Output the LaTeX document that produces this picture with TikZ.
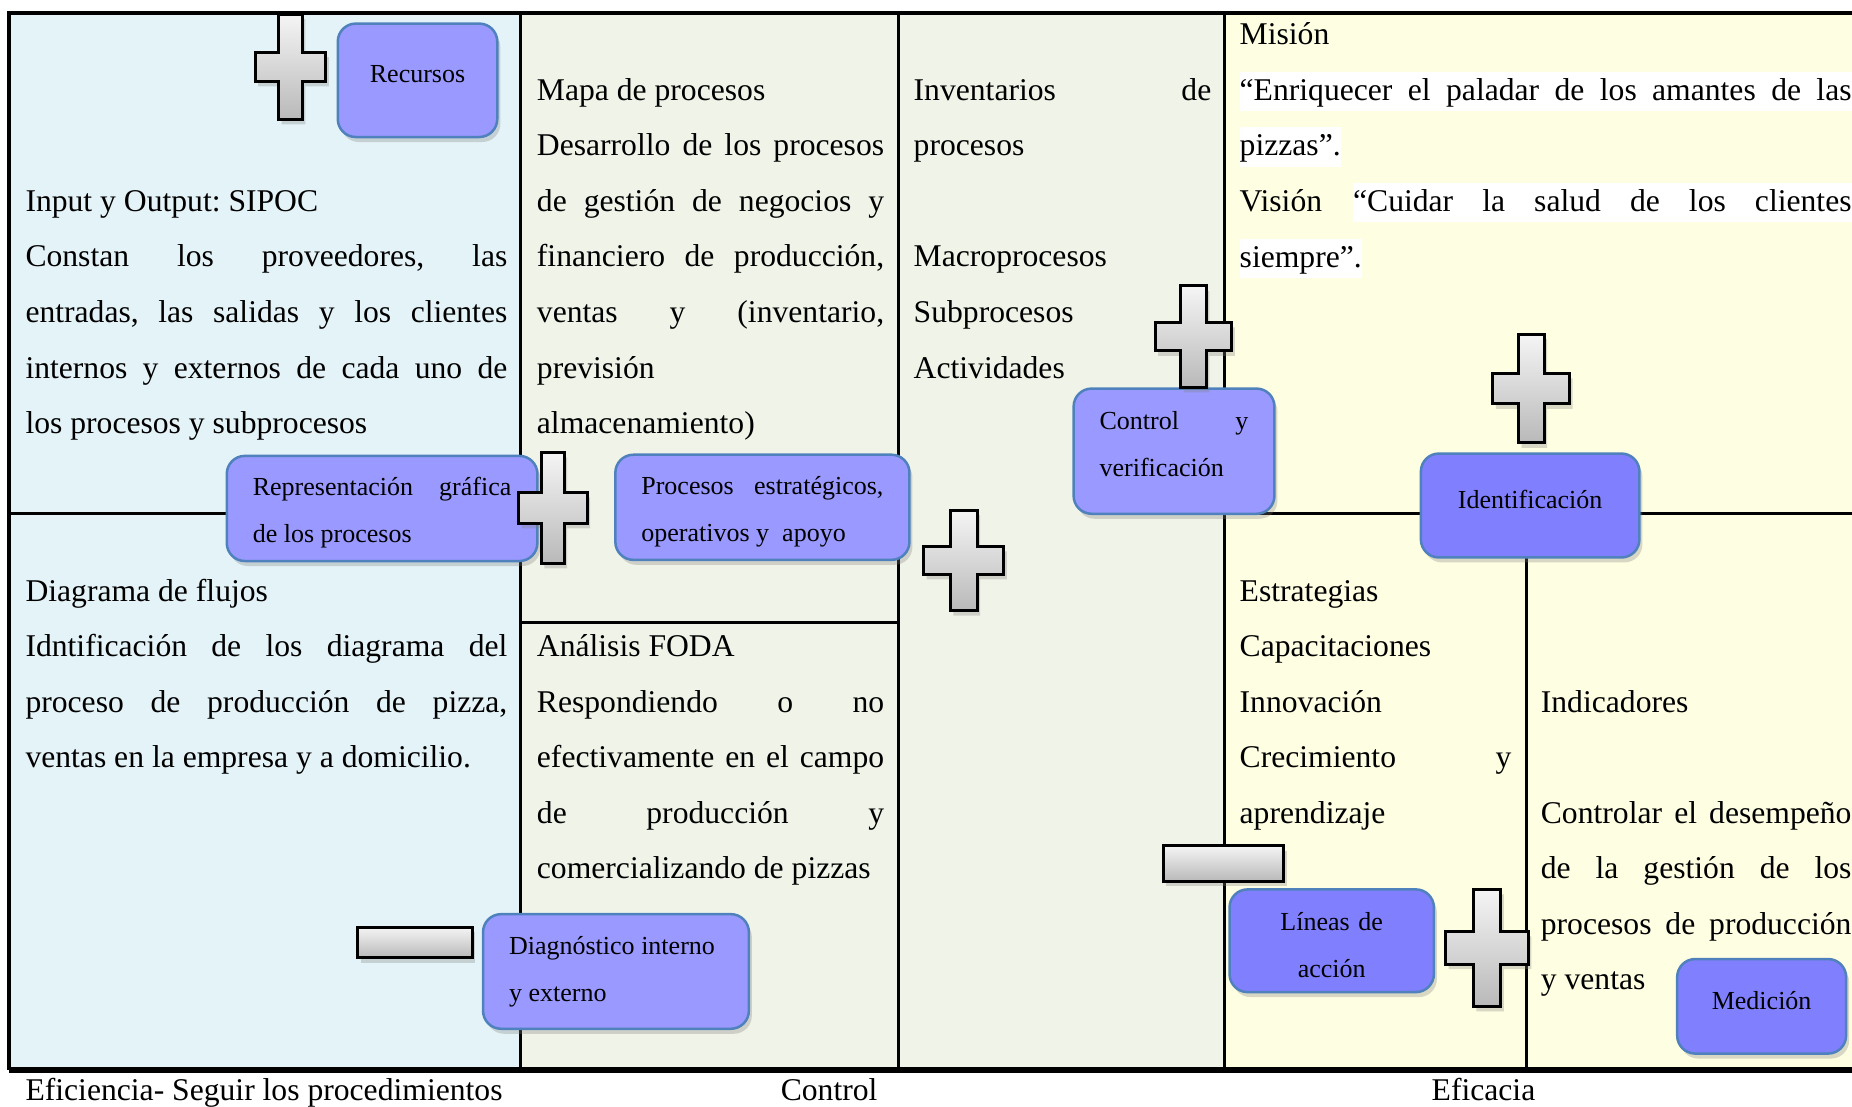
\documentclass[tikz,border=0pt]{standalone}
\usepackage{fontspec}
\setmainfont{Liberation Serif}
\usetikzlibrary{shadows}

\definecolor{celeste}{HTML}{E4F3F8}
\definecolor{verdoso}{HTML}{F0F4E8}
\definecolor{crema}{HTML}{FEFEE2}
\definecolor{lila}{HTML}{9999FF}
\definecolor{lilaosc}{HTML}{8080FF}
\definecolor{borde}{HTML}{4F81BD}

\newcommand\jl[1]{\leavevmode\hbox to\hsize{\spaceskip=0pt\xspaceskip=0pt #1}}
\newcommand\hl[1]{{\setlength\fboxsep{0pt}\colorbox{white}{\rule[-1.1mm]{0pt}{3.95mm}#1}}}

\tikzset{
  cuerpo/.style={anchor=base west, inner sep=0pt, align=justify,
    font=\fontsize{9}{15.8}\selectfont\frenchspacing},
  caja/.style={rounded corners=1.8mm, draw=borde, line width=0.25mm, fill=lila,
    inner xsep=2.6mm, font=\fontsize{7.4}{13.4}\selectfont\frenchspacing,
    drop shadow={shadow xshift=0.3mm, shadow yshift=-0.5mm, opacity=0.3}},
  cajaosc/.style={caja, fill=lilaosc},
  signo/.style={draw=black, line width=0.3mm, top color=gray!8, bottom color=gray!55,
    drop shadow={shadow xshift=0.3mm, shadow yshift=-0.5mm, opacity=0.3}},
  rejilla/.style={line width=0.3mm}
}

\begin{document}
\begin{tikzpicture}[x=0.1181mm, y=-0.1181mm]
        \useasboundingbox (0,0) rectangle (1568,937);
        \clip (0,0) rectangle (1568,937);

        % Cell backgrounds
        \fill[celeste] (8,11) rectangle (441,906);
        \fill[verdoso] (441,11) rectangle (1037,906);
        \fill[crema] (1037,11) rectangle (1580,906);

        % Grid
        \draw[line width=0.4mm] (1580,11) -- (8,11) -- (8,906);
        \draw[line width=0.55mm] (8,906) -- (1580,906);
        \draw[rejilla] (441,11) -- (441,906);
        \draw[rejilla] (761,11) -- (761,906);
        \draw[rejilla] (1037,11) -- (1037,906);
        \draw[rejilla] (8,435) -- (441,435);
        \draw[rejilla] (441,527) -- (761,527);
        \draw[rejilla] (1037,435) -- (1580,435);
        \draw[rejilla] (1292,435) -- (1292,906);

        % Cell texts
        \node[cuerpo, text width=48.18mm] (sipoc) at (21,179) {Input y Output: SIPOC\\
          \jl{Constan los proveedores, las}\\
          \jl{entradas, las salidas y los clientes}\\
          \jl{internos y externos de cada uno de}\\
          los procesos y subprocesos};
        \node[cuerpo, text width=48.18mm] (flujos) at (21,509) {Diagrama de flujos\\
          \jl{Idntificación de los diagrama del}\\
          \jl{proceso de producción de pizza,}\\
          ventas en la empresa y a domicilio.};
        \node[cuerpo, text width=34.72mm] (mapa) at (454,85) {Mapa de procesos\\
          \jl{Desarrollo de los procesos}\\
          \jl{de gestión de negocios y}\\
          \jl{financiero de producción,}\\
          \jl{ventas y (inventario,}\\
          previsión\\
          almacenamiento)};
        \node[cuerpo, text width=34.72mm] (foda) at (454,556) {Análisis FODA\\
          \jl{Respondiendo o no}\\
          \jl{efectivamente en el campo}\\
          \jl{de producción y}\\
          comercializando de pizzas};
        \node[cuerpo, text width=29.76mm] (invent) at (773,85) {\jl{Inventarios de}\\
          procesos\\
          \mbox{}\\
          Macroprocesos\\
          Subprocesos\\
          Actividades};
        \node[cuerpo, text width=61.18mm] (mision) at (1049,38) {Misión\\
          \hl{\jl{“Enriquecer el paladar de los amantes de las}}\\
          \hl{pizzas”.}\\
          \jl{Visión \hl{\hbox to 49.84mm{“Cuidar la salud de los clientes}}}\\
          \hl{siempre”.}};
        \node[cuerpo, text width=27.16mm] (estrat) at (1049,509) {Estrategias\\
          Capacitaciones\\
          Innovación\\
          \jl{Crecimiento y}\\
          aprendizaje};
        \node[cuerpo, text width=31.06mm] (indic) at (1304,603) {Indicadores\\
          \mbox{}\\
          \jl{Controlar el desempeño}\\
          \jl{de la gestión de los}\\
          \jl{procesos de producción}\\
          y ventas};

        % Labels under the table
        \node[cuerpo, align=left] (efic) at (21,932) {Eficiencia- Seguir los procedimientos};
        \node[cuerpo, align=left, anchor=base] (ctrl) at (702,932) {Control};
        \node[cuerpo, align=left, anchor=base] (eficacia) at (1256,932) {Eficacia};

        % Rounded boxes
        \node[caja, text width=10.75mm, minimum height=11.34mm, text depth=1.2mm, align=center] (recursos) at (353.5,68) {Recursos};
        \node[caja, text width=25.86mm, minimum height=10.51mm, text depth=4.35mm, align=justify] (repre) at (323.5,430.5) {\jl{Representación gráfica}\\de los procesos};
        \node[caja, text width=24.21mm, minimum height=10.51mm, text depth=4.35mm, align=justify] (estrateg) at (645.5,429.5) {\jl{Procesos estratégicos,}\\operativos y~ apoyo};
        \node[caja, text width=14.88mm, minimum height=12.52mm, text depth=6.1mm, align=justify] (verif) at (994,382) {\jl{Control y}\\verificación};
        \node[cajaosc, text width=16.65mm, minimum height=10.39mm, text depth=1.2mm, align=center] (ident) at (1295.5,428) {Identificación};
        \node[caja, text width=21.38mm, minimum height=11.46mm, align=justify] (diag) at (521.5,822.5) {Diagnóstico interno\\y externo};
        \node[cajaosc, text width=15.23mm, minimum height=10.27mm, text depth=3.8mm, align=center] (lineas) at (1127.5,796.5) {Líneas de\\acción};
        \node[cajaosc, text width=11.69mm, minimum height=9.45mm, text depth=1.2mm, align=center] (medic) at (1491.5,852) {Medición};

        % Plus signs
        \foreach \cx/\cy/\w/\h in {246/56.5/60/89, 468/430/58/94, 816/474.5/68/85,
                                   1010.5/285/65/86, 1296.5/329/65/92, 1259/802.5/70/99} {
          \pgfmathsetmacro\bx{\w/6}
          \pgfmathsetmacro\by{\h*0.14}
          \pgfmathsetmacro\hx{\w/2}
          \pgfmathsetmacro\hy{\h/2}
          \draw[signo] (\cx-\bx,\cy-\hy) -- (\cx+\bx,\cy-\hy) -- (\cx+\bx,\cy-\by)
            -- (\cx+\hx,\cy-\by) -- (\cx+\hx,\cy+\by) -- (\cx+\bx,\cy+\by)
            -- (\cx+\bx,\cy+\hy) -- (\cx-\bx,\cy+\hy) -- (\cx-\bx,\cy+\by)
            -- (\cx-\hx,\cy+\by) -- (\cx-\hx,\cy-\by) -- (\cx-\bx,\cy-\by) -- cycle;
        }

        % Minus signs
        \draw[signo] (303,785) rectangle (400,811);
        \draw[signo] (985,716) rectangle (1087,746);
    \end{tikzpicture}
\end{document}
